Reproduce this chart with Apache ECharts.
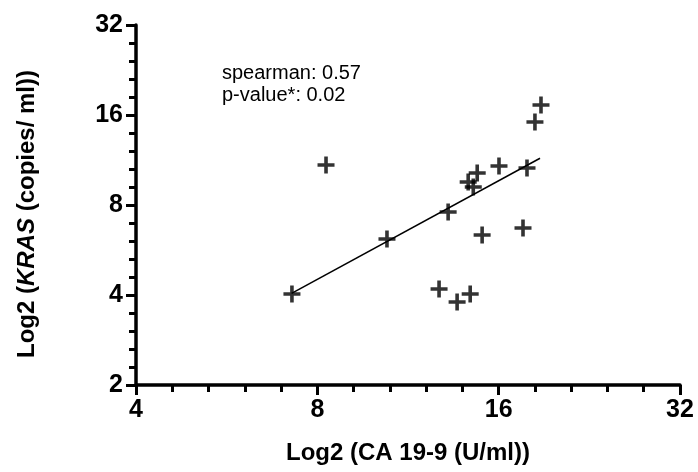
<!DOCTYPE html>
<html>
<head>
<meta charset="utf-8">
<script src="https://cdn.jsdelivr.net/npm/echarts@6/dist/echarts.min.js"></script>
<style>
  html, body { margin: 0; padding: 0; background: #fff; }
  #chart { width: 698px; height: 472px; }
</style>
</head>
<body>
<div id="chart"></div>
<script>
// values (raw units, axes are log2)
const ca199 = [7.26, 8.27, 10.44, 13.19, 12.74, 13.65, 14.35, 14.24, 14.74, 14.52, 15.02, 16.02, 17.83, 17.56, 18.38, 18.81];
const kras = [4.03, 10.89, 6.16, 7.58, 4.19, 3.79, 4.03, 9.55, 10.24, 9.19, 6.35, 10.80, 10.64, 6.70, 15.16, 17.28];

// regression line ends
const fitX = [7.25, 18.74];
const fitY = [4.05, 11.47];

const xTicks = [4, 8, 16, 32];
const yTicks = [2, 4, 8, 16, 32];
const statsLines = ['spearman: 0.57', 'p-value*: 0.02'];

const font = "'Liberation Sans', Arial, sans-serif";
const plus = 'path://M6.7,0h3.6v6.7h6.7v3.6h-6.7v6.7h-3.6v-6.7h-6.7v-3.6h6.7z';

const chart = echarts.init(document.getElementById('chart'), null, { renderer: 'canvas' });

const points = ca199.map(function (x, i) {
  return [Math.log2(x), Math.log2(kras[i])];
});
const fit = fitX.map(function (x, i) {
  return [Math.log2(x), Math.log2(fitY[i])];
});

function axisBase(ticks) {
  return {
    type: 'value',
    min: Math.log2(ticks[0]),
    max: Math.log2(ticks[ticks.length - 1]),
    interval: 1,
    splitLine: { show: false },
    axisLine: { show: true, onZero: false, lineStyle: { color: '#000', width: 3.5 } },
    axisTick: { show: true, length: 10, lineStyle: { color: '#000', width: 3 } },
    minorTick: { show: true, splitNumber: 5, length: 7, lineStyle: { color: '#000', width: 3 } },
    axisLabel: {
      color: '#000',
      fontFamily: font,
      fontWeight: 'bold',
      fontSize: 25,
      formatter: function (v) { return Math.round(Math.pow(2, v)); }
    }
  };
}

const xAxis = axisBase(xTicks);
xAxis.axisLabel.margin = 13;
xAxis.name = 'Log2 (CA 19-9 (U/ml))';
xAxis.nameLocation = 'middle';
xAxis.nameGap = 56;
xAxis.nameTextStyle = { color: '#000', fontFamily: font, fontWeight: 'bold', fontSize: 24 };

const yAxis = axisBase(yTicks);
yAxis.axisLabel.margin = 13;
yAxis.name = '{n|Log2 (}{i|KRAS}{n| (copies/ ml))}';
yAxis.nameLocation = 'middle';
yAxis.nameGap = 97;
yAxis.nameTextStyle = {
  color: '#000', fontFamily: font, fontWeight: 'bold', fontSize: 24,
  padding: [0, 18, 0, 0],
  rich: {
    n: { color: '#000', fontFamily: font, fontWeight: 'bold', fontSize: 24 },
    i: { color: '#000', fontFamily: font, fontWeight: 'bold', fontStyle: 'italic', fontSize: 24 }
  }
};

chart.setOption({
  animation: false,
  backgroundColor: '#fff',
  grid: { left: 136, right: 18, top: 25, bottom: 87 },
  xAxis: xAxis,
  yAxis: yAxis,
  graphic: [{
    type: 'text',
    left: 222,
    top: 62,
    style: {
      text: statsLines.join('\n'),
      fill: '#000',
      font: '20px ' + font,
      lineHeight: 22
    }
  }],
  series: [
    {
      type: 'line',
      data: fit,
      showSymbol: false,
      lineStyle: { color: '#000', width: 1.5 },
      z: 2
    },
    {
      type: 'scatter',
      data: points,
      symbol: plus,
      symbolSize: 17,
      itemStyle: { color: '#000' },
      z: 3
    }
  ]
});
</script>
</body>
</html>
